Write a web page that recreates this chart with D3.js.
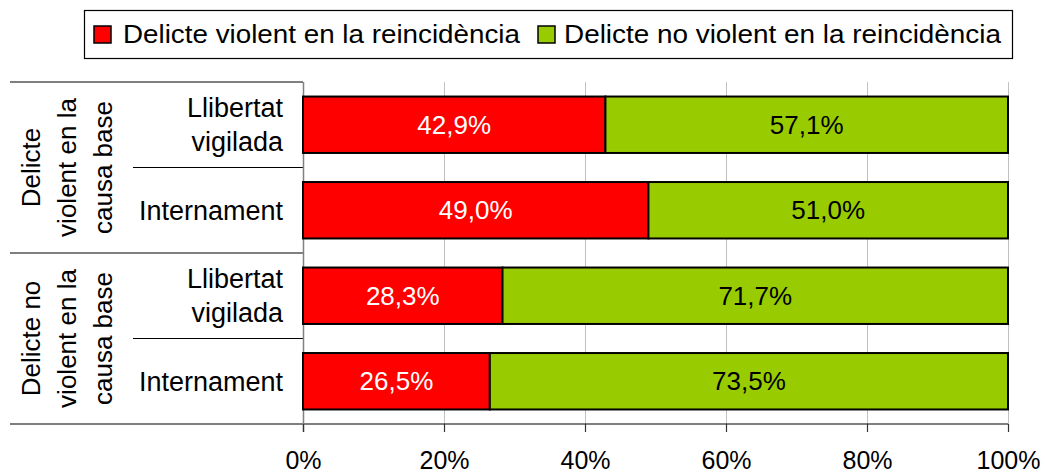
<!DOCTYPE html>
<html>
<head>
<meta charset="utf-8">
<script src="https://cdn.jsdelivr.net/npm/d3@7"></script>
<style>
  html, body { margin: 0; padding: 0; background: #fff; }
  svg { display: block; }
  text { font-family: "Liberation Sans", Arial, sans-serif; }
</style>
</head>
<body>
<div id="chart"></div>
<script>
// ---- data ----
const groups = [["Delicte", "violent en la", "causa base"], ["Delicte no", "violent en la", "causa base"]];
const rowKeys = ["g1-lv", "g1-in", "g2-lv", "g2-in"];
const rowLabels = [["Llibertat", "vigilada"], ["Internament"], ["Llibertat", "vigilada"], ["Internament"]];
const violent = [42.9, 49.0, 28.3, 26.5];
const nonViolent = [57.1, 51.0, 71.7, 73.5];
const seriesNames = ["Delicte violent en la reincidència", "Delicte no violent en la reincidència"];
const seriesColors = ["#FF0000", "#99CC00"];
const labelColors = ["#FFFFFF", "#000000"];
const tickValues = [0, 20, 40, 60, 80, 100];

// ---- layout ----
const W = 1045, H = 475;
const svg = d3.select("#chart").append("svg").attr("width", W).attr("height", H);

const x = d3.scaleLinear().domain([0, 100]).range([303, 1008]);
const y = d3.scaleBand().domain(rowKeys).range([82, 424]).paddingInner(0.34).paddingOuter(0.17);
const step = y.step();
const boundary = i => 82 + i * step;

// gridlines
svg.append("g").selectAll("line").data(tickValues.filter(v => v > 0)).join("line")
  .attr("x1", d => Math.round(x(d)) + 0.5).attr("x2", d => Math.round(x(d)) + 0.5)
  .attr("y1", 82).attr("y2", 424)
  .attr("stroke", "#c0c0c0").attr("stroke-width", 1);

// left table lines
const tbl = svg.append("g").attr("stroke", "#000").attr("stroke-width", 1.2);
[0, 2].forEach(i => tbl.append("line").attr("x1", 10).attr("x2", x(0)).attr("y1", boundary(i)).attr("y2", boundary(i)));
[1, 3].forEach(i => tbl.append("line").attr("x1", 133).attr("x2", x(0)).attr("y1", boundary(i)).attr("y2", boundary(i)));
tbl.append("line").attr("x1", 10).attr("x2", x(100)).attr("y1", boundary(4)).attr("y2", boundary(4));

// vertical axis line
svg.append("line").attr("x1", Math.round(x(0)) + 0.5).attr("x2", Math.round(x(0)) + 0.5)
  .attr("y1", 82).attr("y2", 432).attr("stroke", "#808080").attr("stroke-width", 1.5);

// x axis ticks & labels
const xAxis = d3.axisBottom(x).tickValues(tickValues).tickSize(8).tickPadding(19).tickFormat(d => d + "%");
const gx = svg.append("g").attr("transform", `translate(0,${boundary(4)})`).call(xAxis);
gx.select(".domain").remove();
gx.selectAll(".tick line").attr("stroke", "#333").attr("stroke-width", 1.2);
gx.selectAll(".tick text").attr("font-size", 25).attr("fill", "#000")
  .attr("font-family", "Liberation Sans, Arial, sans-serif").attr("dy", "0.71em");

// bars
const stacked = rowKeys.map((k, i) => [
  { key: k, s: 0, x0: 0, x1: violent[i], v: violent[i] },
  { key: k, s: 1, x0: violent[i], x1: violent[i] + nonViolent[i], v: nonViolent[i] }
]).flat();

svg.append("g").selectAll("rect").data(stacked).join("rect")
  .attr("x", d => x(d.x0)).attr("width", d => x(d.x1) - x(d.x0))
  .attr("y", d => y(d.key)).attr("height", y.bandwidth())
  .attr("fill", d => seriesColors[d.s]).attr("stroke", "#000").attr("stroke-width", 2);

const fmt = v => d3.format(".1f")(v).replace(".", ",") + "%";
svg.append("g").selectAll("text").data(stacked).join("text")
  .attr("x", d => (x(d.x0) + x(d.x1)) / 2)
  .attr("y", d => y(d.key) + y.bandwidth() / 2 + 9)
  .attr("text-anchor", "middle").attr("font-size", 26)
  .attr("fill", d => labelColors[d.s]).text(d => fmt(d.v));

// row labels
rowKeys.forEach((k, i) => {
  const cy = y(k) + y.bandwidth() / 2;
  const lines = rowLabels[i];
  const t = svg.append("text").attr("text-anchor", "end").attr("font-size", 27).attr("fill", "#000");
  if (lines.length === 1) {
    t.append("tspan").attr("x", 283).attr("y", cy + 9.5).text(lines[0]);
  } else {
    lines.forEach((l, j) => t.append("tspan").attr("x", 283).attr("y", cy - 7.5 + j * 34).text(l));
  }
});

// group labels (rotated)
groups.forEach((g, gi) => {
  const cy = (boundary(gi * 2) + boundary(gi * 2 + 2)) / 2;
  g.forEach((l, j) => {
    const bx = 40 + j * 36;
    svg.append("text").attr("transform", `translate(${bx},${cy}) rotate(-90)`)
      .attr("text-anchor", "middle").attr("font-size", 26).attr("fill", "#000").text(l);
  });
});

// legend
const lg = svg.append("g");
lg.append("rect").attr("x", 84.5).attr("y", 10.5).attr("width", 928).attr("height", 48)
  .attr("fill", "#fff").attr("stroke", "#000").attr("stroke-width", 1.2);
const legendItems = [
  { sq: 94, tx: 123, len: 397 },
  { sq: 538, tx: 564, len: 437 }
];
legendItems.forEach((it, i) => {
  lg.append("rect").attr("x", it.sq).attr("y", 26).attr("width", 17).attr("height", 17)
    .attr("fill", seriesColors[i]).attr("stroke", "#000").attr("stroke-width", 1.5);
  lg.append("text").attr("x", it.tx).attr("y", 43).attr("font-size", 25)
    .attr("textLength", it.len).attr("lengthAdjust", "spacingAndGlyphs")
    .attr("fill", "#000").text(seriesNames[i]);
});
</script>
</body>
</html>
